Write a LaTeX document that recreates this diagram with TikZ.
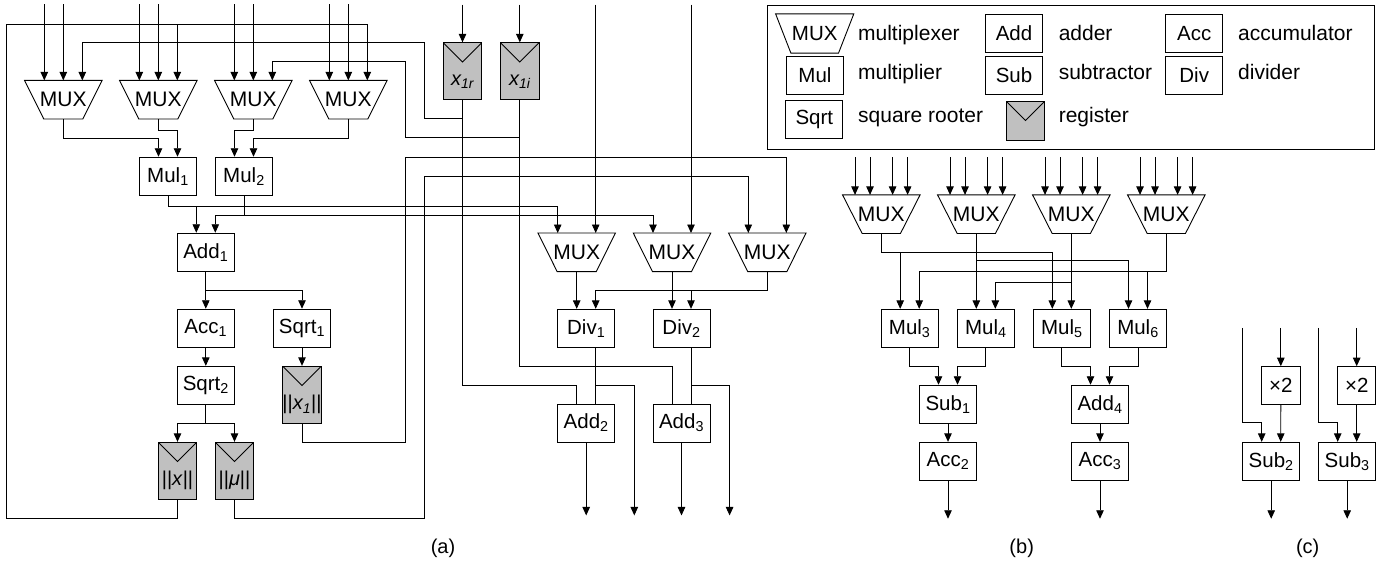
\documentclass[tikz,border=0pt]{standalone}
\usepackage{fontspec}
\setmainfont{Liberation Sans}
\usetikzlibrary{arrows.meta}
\definecolor{regfill}{HTML}{C0C0C0}
\newcommand\drawmux[2]{\draw (#1.north west) -- (#1.north east) -- ([xshift=-#2pt]#1.south east) -- ([xshift=#2pt]#1.south west) -- cycle;}
\begin{document}
\begin{tikzpicture}[x=1pt,y=-1pt,line width=0.9pt,
  arr/.style={-{Triangle[length=8.5pt,width=7.5pt]}},
  blk/.style={draw,fill=white,minimum width=57pt,minimum height=38pt,inner sep=0pt,font=\fontsize{20.5}{22}\selectfont},
  sbox/.style={draw,fill=white,minimum width=38.3pt,minimum height=37.3pt,inner sep=0pt,font=\fontsize{20.5}{22}\selectfont},
  mux/.style={minimum width=76.6pt,minimum height=37.7pt,inner sep=0pt,font=\fontsize{21}{23}\selectfont},
  reg/.style={draw,fill=regfill,minimum width=38.3pt,minimum height=57pt,inner sep=0pt,
    path picture={\draw[line width=0.9pt] (path picture bounding box.north west) -- ++(19.15pt,-19.15pt) -- (path picture bounding box.north east);}},
  regtxt/.style={inner sep=0pt,font=\fontsize{20}{22}\selectfont},
  lbox/.style={draw,minimum width=57pt,minimum height=38pt,inner sep=0pt,font=\fontsize{20.5}{22}\selectfont},
  ltxt/.style={anchor=base west,inner sep=0pt,font=\fontsize{21}{23}\selectfont},
  captxt/.style={inner sep=0pt,font=\fontsize{20}{22}\selectfont}]
\useasboundingbox (0,0) rectangle (1391,565);

% ---------------- (a) ----------------
\foreach \i/\x in {1/63.3,2/158.3,3/253.3,4/348.3}{\node[mux] (ma\i) at (\x,99.7) {MUX};}
\foreach \i in {1,2,3,4}{\drawmux{ma\i}{19.2}}
\node[reg] (x1r) at (462.5,71.3) {};
\node[reg] (x1i) at (519.8,71.3) {};
\node[regtxt] (x1rt) at ([yshift=-10pt]x1r.center) {\textit{x\textsubscript{1r}}};
\node[regtxt] (x1it) at ([yshift=-10pt]x1i.center) {\textit{x\textsubscript{1i}}};
\node[blk] (mul1) at (168,176.2) {Mul\textsubscript{1}};
\node[blk] (mul2) at (244,176.2) {Mul\textsubscript{2}};
\node[blk] (add1) at (205.8,252.2) {Add\textsubscript{1}};
\node[blk] (acc1) at (205.8,328.2) {Acc\textsubscript{1}};
\node[blk] (sqrt1) at (302,328.2) {Sqrt\textsubscript{1}};
\node[blk] (sqrt2) at (205.8,385.3) {Sqrt\textsubscript{2}};
\node[reg] (rx1) at (302,394.8) {};
\node[reg] (rx) at (177.5,470.8) {};
\node[reg] (rmu) at (234.5,470.8) {};
\node[regtxt] (rx1t) at ([yshift=-10pt]rx1.center) {||\textit{x\textsubscript{1}}||};
\node[regtxt] (rxt) at ([yshift=-10pt]rx.center) {||\textit{x}||};
\node[regtxt] (rmut) at ([yshift=-10pt]rmu.center) {||\textit{μ}||};
\foreach \i/\x in {1/576.7,2/672,3/767.3}{\node[mux] (mb\i) at (\x,252.3) {MUX};}
\foreach \i in {1,2,3}{\drawmux{mb\i}{19.2}}
\node[blk] (div1) at (586.2,328.3) {Div\textsubscript{1}};
\node[blk] (div2) at (681.5,328.3) {Div\textsubscript{2}};
\node[blk] (add2) at (586.2,423) {Add\textsubscript{2}};
\node[blk] (add3) at (681.5,423) {Add\textsubscript{3}};

% top inputs
\foreach \m in {ma1,ma2,ma3,ma4}{
  \draw[arr] ([xshift=-19pt,yshift=76pt]\m.north) -- ([xshift=-19pt]\m.north);
  \draw[arr] ([yshift=76pt]\m.north) -- (\m.north);}
\draw[arr] ([yshift=37.7pt]x1r.north) -- (x1r.north);
\draw[arr] ([yshift=37.7pt]x1i.north) -- (x1i.north);
\draw[arr] ([xshift=19pt,yshift=228.3pt]mb1.north) -- ([xshift=19pt]mb1.north);
\draw[arr] ([xshift=19pt,yshift=228.3pt]mb2.north) -- ([xshift=19pt]mb2.north);
% feedback loops
\draw[arr] (x1r.south) -- ++(0,18.3) -| (424.3,42.7) -| ([xshift=19pt]ma1.north);
\draw[arr] (x1i.south) -- ++(0,37.3) -| (405.7,61.7) -| ([xshift=19pt]ma3.north);
\draw[arr] (rx.south) -- ++(0,19) -| (6,24) -| ([xshift=19pt]ma4.north);
\draw[arr] (rx.south) -- ++(0,19) -| (6,24) -| ([xshift=19pt]ma2.north);
\draw[arr] (rmu.south) -- ++(0,19) -| (424.3,176.7) -| ([xshift=-19pt]mb3.north);
\draw[arr] (rx1.south) -- ++(0,19) -| (405.7,157.3) -| ([xshift=19pt]mb3.north);
% MUX to Mul
\draw[arr] (ma1.south) -- ++(0,19) -| ([xshift=-9.5pt]mul1.north);
\draw[arr] (ma2.south) -- ++(0,11) -| ([xshift=9.5pt]mul1.north);
\draw[arr] (ma3.south) -- ++(0,11) -| ([xshift=-9.5pt]mul2.north);
\draw[arr] (ma4.south) -- ++(0,19) -| ([xshift=9.5pt]mul2.north);
% Mul to Add1 and MUXes
\draw[arr] (mul1.south) -- ++(0,10.7) -| ([xshift=-9.5pt]add1.north);
\draw[arr] (mul1.south) -- ++(0,10.7) -| ([xshift=-19pt]mb1.north);
\draw[arr] (mul2.south) -- ++(0,19.3) -| ([xshift=9.5pt]add1.north);
\draw[arr] (mul2.south) -- ++(0,19.3) -| ([xshift=-19pt]mb2.north);
% Add1 chain
\draw[arr] (add1.south) -- (acc1.north);
\draw[arr] (add1.south) -- ++(0,19) -| (sqrt1.north);
\draw[arr] (acc1.south) -- (sqrt2.north);
\draw[arr] (sqrt1.south) -- (rx1.north);
\draw[arr] (sqrt2.south) -- ++(0,19) -| (rx.north);
\draw[arr] (sqrt2.south) -- ++(0,19) -| (rmu.north);
% dividers
\draw[arr] (mb1.south) -- ([xshift=-9.5pt]div1.north);
\draw[arr] (mb2.south) -- ([xshift=-9.5pt]div2.north);
\draw[arr] (mb3.south) -- ++(0,19) -| ([xshift=9.5pt]div1.north);
\draw[arr] (mb3.south) -- ++(0,19) -| ([xshift=9.5pt]div2.north);
\draw (x1r.south) -- ++(0,285) -| ([xshift=-9.5pt]add2.north);
\draw (x1i.south) -- ++(0,266) -| ([xshift=-9.5pt]add3.north);
\draw ([xshift=9.5pt]div1.south) -- ([xshift=9.5pt]add2.north);
\draw ([xshift=9.5pt]div2.south) -- ([xshift=9.5pt]add3.north);
\draw[arr] ([xshift=9.5pt]div1.south) -- ++(0,37.7) -| ++(38.6,130);
\draw[arr] ([xshift=9.5pt]div2.south) -- ++(0,37.7) -| ++(38.6,130);
\draw[arr] (add2.south) -- ++(0,73);
\draw[arr] (add3.south) -- ++(0,73);
\node[captxt] (capa) at (443,548) {(a)};

% ---------------- legend ----------------
\node[draw,minimum width=606.8pt,minimum height=144pt,inner sep=0pt] (leg) at (1070.9,77) {};
\node[mux,minimum width=77.3pt,minimum height=38.4pt,font=\fontsize{20.5}{22}\selectfont] (lmux) at (814.7,33.5) {MUX};
\drawmux{lmux}{15.3}
\node[lbox] (ladd) at (1014,33.5) {Add};
\node[lbox] (lacc) at (1194.2,33.3) {Acc};
\node[lbox] (lmul) at (815,75.5) {Mul};
\node[lbox] (lsub) at (1014,75.5) {Sub};
\node[lbox] (ldiv) at (1194.2,75.5) {Div};
\node[lbox] (lsqrt) at (814.3,119.2) {Sqrt};
\node[draw,fill=regfill,minimum width=37.6pt,minimum height=38.5pt,inner sep=0pt,
  path picture={\draw[line width=0.9pt] (path picture bounding box.north west) -- ++(18.8pt,-18.8pt) -- (path picture bounding box.north east);}] (lreg) at (1025.5,121) {};
\node[ltxt] (t1) at (857.7,40) {multiplexer};
\node[ltxt] (t2) at (1058.3,40) {adder};
\node[ltxt] (t3) at (1237.7,40) {accumulator};
\node[ltxt] (t4) at (857.7,79.5) {multiplier};
\node[ltxt] (t5) at (1058.3,79.5) {subtractor};
\node[ltxt] (t6) at (1237.7,79.5) {divider};
\node[ltxt] (t7) at (857.7,122.5) {square rooter};
\node[ltxt] (t8) at (1058.3,122) {register};

% ---------------- (b) ----------------
\foreach \i/\x in {1/881.3,2/976.3,3/1071.3,4/1166.3}{\node[mux] (mc\i) at (\x,214.2) {MUX};}
\foreach \i in {1,2,3,4}{\drawmux{mc\i}{19.6}
  \foreach \d in {-26.3,-11.3,11.3,26.3}{\draw[arr] ([xshift=\d pt,yshift=37.7pt]mc\i.north) -- ([xshift=\d pt]mc\i.north);}}
\node[blk] (mul3) at (909.7,328.3) {Mul\textsubscript{3}};
\node[blk] (mul4) at (985.8,328.3) {Mul\textsubscript{4}};
\node[blk] (mul5) at (1061.8,328.3) {Mul\textsubscript{5}};
\node[blk] (mul6) at (1138,328.3) {Mul\textsubscript{6}};
\node[blk] (sub1) at (948,404.2) {Sub\textsubscript{1}};
\node[blk] (acc2) at (948,461.3) {Acc\textsubscript{2}};
\node[blk] (add4) at (1100,404.2) {Add\textsubscript{4}};
\node[blk] (acc3) at (1100,461.3) {Acc\textsubscript{3}};
\draw[arr] (mc1.south) -- ++(0,19) -| ([xshift=-9.5pt]mul3.north);
\draw[arr] (mc1.south) -- ++(0,19) -| ([xshift=-9.5pt]mul5.north);
\draw[arr] (mc2.south) -- ([xshift=-9.5pt]mul4.north);
\draw[arr] (mc2.south) -- ++(0,26.7) -| ([xshift=-9.5pt]mul6.north);
\draw[arr] (mc3.south) -- ([xshift=9.5pt]mul5.north);
\draw[arr] (mc3.south) -- ++(0,49.4) -| ([xshift=9.5pt]mul4.north);
\draw[arr] (mc4.south) -- ++(0,37.7) -| ([xshift=9.5pt]mul3.north);
\draw[arr] (mc4.south) -- ++(0,37.7) -| ([xshift=9.5pt]mul6.north);
\draw[arr] (mul3.south) -- ++(0,19) -| ([xshift=-9.5pt]sub1.north);
\draw[arr] (mul4.south) -- ++(0,19) -| ([xshift=9.5pt]sub1.north);
\draw[arr] (mul5.south) -- ++(0,19) -| ([xshift=-9.5pt]add4.north);
\draw[arr] (mul6.south) -- ++(0,19) -| ([xshift=9.5pt]add4.north);
\draw[arr] (sub1.south) -- (acc2.north);
\draw[arr] (add4.south) -- (acc3.north);
\draw[arr] (acc2.south) -- ++(0,38);
\draw[arr] (acc3.south) -- ++(0,38);
\node[captxt] (capb) at (1021.7,548) {(b)};

% ---------------- (c) ----------------
\node[sbox] (x2a) at (1280.8,385.3) {×2};
\node[sbox] (x2b) at (1356.7,385.3) {×2};
\node[blk] (sub2) at (1271.2,461.3) {Sub\textsubscript{2}};
\node[blk] (sub3) at (1347.2,461.3) {Sub\textsubscript{3}};
\foreach \a/\s in {x2a/sub2,x2b/sub3}{
  \draw[arr] ([yshift=114pt]\s.north west) -- ([yshift=19pt]\s.north west) -| ([xshift=-9.5pt]\s.north);
  \draw[arr] ([yshift=38.4pt]\a.north) -- (\a.north);
  \draw[arr] (\a.south) -- ([xshift=9.5pt]\s.north);
  \draw[arr] (\s.south) -- ++(0,38);}
\node[captxt] (capc) at (1307.7,548) {(c)};
\end{tikzpicture}
\end{document}
